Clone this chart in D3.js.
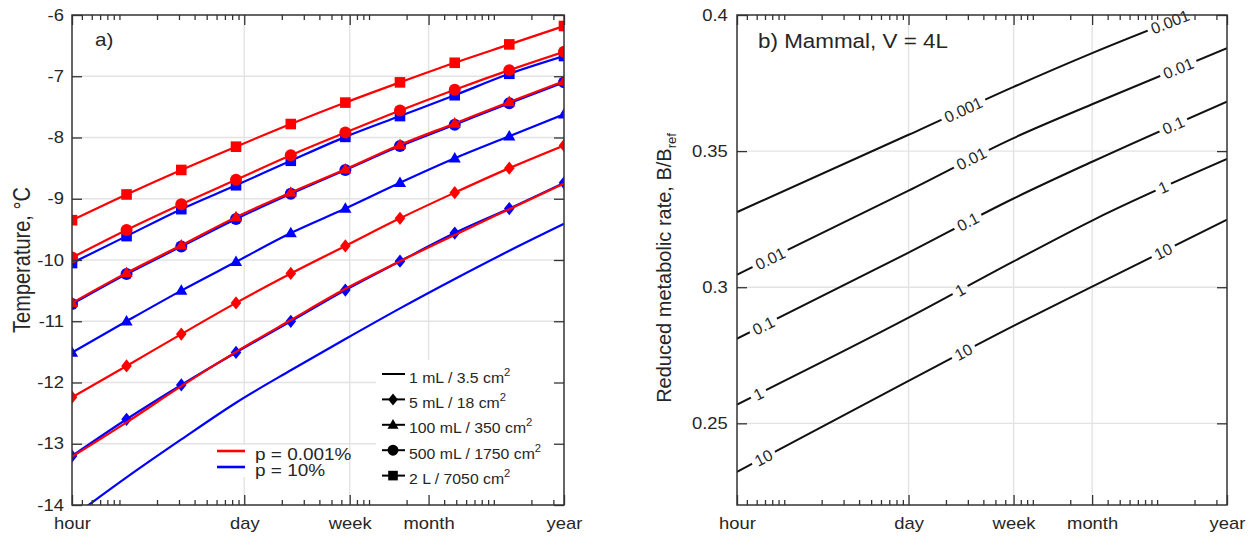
<!DOCTYPE html>
<html>
<head>
<meta charset="utf-8">
<script src="https://cdn.jsdelivr.net/npm/d3@7"></script>
<style>
	body { margin: 0; background: #fff; }
	svg { display: block; background: #fff; }
</style>
</head>
<body>
<svg id="chart" width="1251" height="537"></svg>
<script>
// shared time axis, in days
const timeTicks = [1 / 24, 1, 7, 30, 365];
const timeLabels = ["hour", "day", "week", "month", "year"];

// a) marker times (days) and temperatures (°C), rows follow sizeLabels
const sampleTimes = [0.0417, 0.114, 0.313, 0.859, 2.36, 6.46, 17.7, 48.6, 133, 365];
const sizeLabels = ["1 mL / 3.5 cm", "5 mL / 18 cm", "100 mL / 350 cm", "500 mL / 1750 cm", "2 L / 7050 cm"];
const sizeMarkers = ["none", "diamond", "triangle", "circle", "square"];
const probLabels = ["p = 0.001%", "p = 10%"];
const probColors = ["#ff0000", "#0000ff"];
const tempLowP = [
	[-13.21, -12.65, -12.06, -11.5, -10.98, -10.47, -10.02, -9.59, -9.17, -8.75],
	[-12.24, -11.73, -11.21, -10.7, -10.22, -9.77, -9.32, -8.9, -8.5, -8.13],
	[-10.7, -10.21, -9.76, -9.3, -8.9, -8.52, -8.12, -7.77, -7.42, -7.08],
	[-9.96, -9.51, -9.09, -8.69, -8.29, -7.92, -7.56, -7.22, -6.9, -6.6],
	[-9.35, -8.93, -8.53, -8.15, -7.78, -7.43, -7.1, -6.78, -6.48, -6.18],
];
const tempHighP = [
	[-14.2, -13.55, -12.93, -12.33, -11.8, -11.29, -10.79, -10.31, -9.85, -9.41],
	[-13.2, -12.6, -12.04, -11.51, -11.0, -10.49, -10.02, -9.56, -9.16, -8.74],
	[-11.51, -11.0, -10.5, -10.03, -9.56, -9.16, -8.74, -8.34, -7.98, -7.62],
	[-10.72, -10.23, -9.78, -9.33, -8.92, -8.53, -8.14, -7.79, -7.44, -7.1],
	[-10.05, -9.61, -9.17, -8.78, -8.38, -7.99, -7.65, -7.31, -6.96, -6.67],
];
const tempTicks = [-14, -13, -12, -11, -10, -9, -8, -7, -6];

// b) contour levels, reduced rate read at timeTicks
const contourLevels = ["0.001", "0.01", "0.1", "1", "10"];
const contourRates = [
	[0.3276, 0.356, 0.3736, 0.386, 0.4056],
	[0.3046, 0.3355, 0.3548, 0.3672, 0.3878],
	[0.2811, 0.3127, 0.3326, 0.3461, 0.3682],
	[0.2569, 0.2888, 0.3095, 0.3245, 0.3471],
	[0.2322, 0.2656, 0.2858, 0.3002, 0.3248],
];
const contourLabelTimes = [
	[2.76, 127],
	[0.077, 3.2, 148],
	[0.068, 3.0, 135],
	[0.062, 2.6, 112],
	[0.068, 2.76, 112],
];
const rateTicks = [0.25, 0.3, 0.35, 0.4];

const font = '"Liberation Sans", Arial, Helvetica, sans-serif';
const ink = "#262626";
const axisColor = "#333";
const SX = 1.15; // the original lettering is a bit wide

const svg = d3.select("#chart").attr("font-family", font);
const defs = svg.append("defs");

function addText(g, x, y, str, size, sx = SX, anchor = "start") {
	return g
		.append("text")
		.attr("transform", `translate(${x},${y}) scale(${sx},1)`)
		.attr("font-size", size + "px")
		.attr("text-anchor", anchor)
		.attr("fill", ink)
		.text(str);
}

function markerPath(type, s) {
	switch (type) {
		case "square":
			return `M${-s},${-s}H${s}V${s}H${-s}Z`;
		case "circle":
			return d3.symbol(d3.symbolCircle, Math.PI * s * s * 1.28)();
		case "triangle":
			return `M0,${-s * 1.2}L${s * 1.15},${s * 0.8}L${-s * 1.15},${s * 0.8}Z`;
		case "diamond":
			return `M0,${-s * 1.25}L${s},0L0,${s * 1.25}L${-s},0Z`;
	}
	return "";
}

function drawGrid(g, p, x, y, yTicks) {
	const [y0, y1] = y.domain();
	const grid = g.append("g").attr("stroke", "#e3e3e3").attr("stroke-width", 1.4);
	grid
		.selectAll("line.gy")
		.data(yTicks.filter((v) => v > y0 && v < y1))
		.join("line")
		.attr("class", "gy")
		.attr("x1", p.left)
		.attr("x2", p.right)
		.attr("y1", (d) => y(d))
		.attr("y2", (d) => y(d));
	grid
		.selectAll("line.gx")
		.data(timeTicks.slice(1, -1))
		.join("line")
		.attr("class", "gx")
		.attr("x1", (d) => x(d))
		.attr("x2", (d) => x(d))
		.attr("y1", p.top)
		.attr("y2", p.bottom);
}

function drawAxes(g, p, x, y, yTicks, labelPad) {
	const minor = x
		.ticks()
		.filter((t) => !timeTicks.some((m) => Math.abs(Math.log10(t / m)) < 0.005));
	const put = (axis, tx, ty) => {
		const a = g
			.append("g")
			.attr("transform", `translate(${tx},${ty})`)
			.call(axis)
			.attr("font-family", font)
			.attr("font-size", 16);
		a.select(".domain").remove();
		a.selectAll(".tick line").attr("stroke", axisColor).attr("stroke-width", 1.3);
		a.selectAll(".tick text").attr("fill", ink).attr("transform", `scale(${SX},1)`);
	};
	put(d3.axisBottom(x).tickValues(minor).tickSize(-5).tickFormat(""), 0, p.bottom);
	put(d3.axisTop(x).tickValues(minor).tickSize(-5).tickFormat(""), 0, p.top);
	put(
		d3.axisBottom(x).tickValues(timeTicks).tickSize(-10).tickPadding(13)
			.tickFormat((d, i) => timeLabels[i]),
		0,
		p.bottom
	);
	put(d3.axisTop(x).tickValues(timeTicks).tickSize(-10).tickFormat(""), 0, p.top);
	put(
		d3.axisLeft(y).tickValues(yTicks).tickSize(-10).tickPadding(labelPad)
			.tickFormat((d) => String(d)),
		p.left,
		0
	);
	put(d3.axisRight(y).tickValues(yTicks).tickSize(-10).tickFormat(""), p.right, 0);
	g.append("rect")
		.attr("x", p.left)
		.attr("y", p.top)
		.attr("width", p.right - p.left)
		.attr("height", p.bottom - p.top)
		.attr("fill", "none")
		.attr("stroke", axisColor)
		.attr("stroke-width", 1.5);
}

// ---------- panel a ----------
const pa = { left: 72, right: 564, top: 15, bottom: 505 };
const xa = d3.scaleLog().domain(d3.extent(timeTicks)).range([pa.left, pa.right]);
const ya = d3.scaleLinear().domain(d3.extent(tempTicks)).range([pa.bottom, pa.top]);
const ga = svg.append("g");

defs.append("clipPath").attr("id", "clipA").append("rect")
	.attr("x", pa.left).attr("y", pa.top)
	.attr("width", pa.right - pa.left).attr("height", pa.bottom - pa.top);

drawGrid(ga, pa, xa, ya, tempTicks);

// legend backgrounds hide the grid
ga.append("rect").attr("x", 376).attr("y", 360).attr("width", 187).attr("height", 144).attr("fill", "#fff");
ga.append("rect").attr("x", 212).attr("y", 445).attr("width", 134).attr("height", 32).attr("fill", "#fff");

const gData = ga.append("g").attr("clip-path", "url(#clipA)");
const lineA = d3.line().curve(d3.curveMonotoneX);

function drawSeries(values, color) {
	values.forEach((row, i) => {
		const pts = row.map((v, j) => [xa(sampleTimes[j]), ya(v)]);
		gData.append("path")
			.attr("d", lineA(pts))
			.attr("fill", "none")
			.attr("stroke", color)
			.attr("stroke-width", 2.2);
		if (sizeMarkers[i] === "none") return;
		gData.append("g")
			.selectAll("path")
			.data(pts)
			.join("path")
			.attr("transform", (d) => `translate(${d[0]},${d[1]})`)
			.attr("d", markerPath(sizeMarkers[i], 5.3))
			.attr("fill", color);
	});
}
drawSeries(tempHighP, probColors[1]);
drawSeries(tempLowP, probColors[0]);

// size legend
sizeLabels.forEach((lab, i) => {
	const y = 374 + i * 25.4;
	ga.append("line")
		.attr("x1", 382).attr("x2", 405).attr("y1", y).attr("y2", y)
		.attr("stroke", "#000").attr("stroke-width", 2);
	if (sizeMarkers[i] !== "none") {
		ga.append("path")
			.attr("transform", `translate(393,${y})`)
			.attr("d", markerPath(sizeMarkers[i], 4.8))
			.attr("fill", "#000");
	}
	const t = addText(ga, 409, y + 8.5, lab, 15.5, 1.02);
	t.append("tspan").attr("dy", -7).attr("font-size", "11px").text("2");
});

// probability legend
probLabels.forEach((lab, i) => {
	const y = 451 + i * 16;
	ga.append("line")
		.attr("x1", 217).attr("x2", 245).attr("y1", y).attr("y2", y)
		.attr("stroke", probColors[i]).attr("stroke-width", 2.6);
	addText(ga, 255, y + 9, lab, 16.5, 1.15);
});

drawAxes(ga, pa, xa, ya, tempTicks, 7);
addText(ga, 95, 46, "a)", 18);
ga.append("text")
	.attr("transform", `translate(30,260) scale(${SX},1) rotate(-90)`)
	.attr("text-anchor", "middle")
	.attr("font-size", "20px")
	.attr("fill", ink)
	.text("Temperature, °C");

// ---------- panel b ----------
const pb = { left: 737, right: 1227, top: 15, bottom: 505 };
const xb = d3.scaleLog().domain(d3.extent(timeTicks)).range([pb.left, pb.right]);
const yb = d3.scaleLinear().domain([0.22, 0.4]).range([pb.bottom, pb.top]);
const gb = svg.append("g");

defs.append("clipPath").attr("id", "clipB").append("rect")
	.attr("x", pb.left).attr("y", pb.top)
	.attr("width", pb.right - pb.left).attr("height", pb.bottom - pb.top);

drawGrid(gb, pb, xb, yb, rateTicks);

const mask = defs.append("mask")
	.attr("id", "labelMask")
	.attr("maskUnits", "userSpaceOnUse")
	.attr("x", 0).attr("y", 0).attr("width", 1251).attr("height", 537);
mask.append("rect").attr("width", 1251).attr("height", 537).attr("fill", "#fff");

const gContour = gb.append("g").attr("clip-path", "url(#clipB)").append("g").attr("mask", "url(#labelMask)");
const gLabels = gb.append("g");
const lineB = d3.line().curve(d3.curveMonotoneX);

contourRates.forEach((row, i) => {
	const pts = row.map((v, j) => [xb(timeTicks[j]), yb(v)]);
	const node = gContour.append("path")
		.attr("d", lineB(pts))
		.attr("fill", "none")
		.attr("stroke", "#111")
		.attr("stroke-width", 2)
		.node();
	const L = node.getTotalLength();
	contourLabelTimes[i].forEach((t) => {
		const tx = xb(t);
		let lo = 0, hi = L;
		for (let k = 0; k < 40; k++) {
			const mid = (lo + hi) / 2;
			if (node.getPointAtLength(mid).x < tx) lo = mid;
			else hi = mid;
		}
		const p = node.getPointAtLength(lo);
		const a = node.getPointAtLength(Math.max(0, lo - 5));
		const b = node.getPointAtLength(Math.min(L, lo + 5));
		const ang = (Math.atan2(b.y - a.y, b.x - a.x) * 180) / Math.PI;
		const tf = `translate(${p.x},${p.y}) rotate(${ang})`;
		const txt = gLabels.append("text")
			.attr("transform", tf)
			.attr("text-anchor", "middle")
			.attr("dy", "0.36em")
			.attr("font-size", "16px")
			.attr("fill", ink)
			.text(contourLevels[i]);
		const w = txt.node().getComputedTextLength();
		mask.append("rect")
			.attr("transform", tf)
			.attr("x", -w / 2 - 4).attr("y", -8)
			.attr("width", w + 8).attr("height", 16)
			.attr("fill", "#000");
	});
});

drawAxes(gb, pb, xb, yb, rateTicks, 8);
addText(gb, 758, 48, "b) Mammal, V = 4L", 19.5);
const yLabB = gb.append("text")
	.attr("transform", `translate(671,268) scale(1.05,1) rotate(-90)`)
	.attr("text-anchor", "middle")
	.attr("font-size", "20px")
	.attr("fill", ink)
	.text("Reduced metabolic rate, B/B");
yLabB.append("tspan").attr("font-size", "13px").attr("dy", 5).text("ref");
</script>
</body>
</html>
